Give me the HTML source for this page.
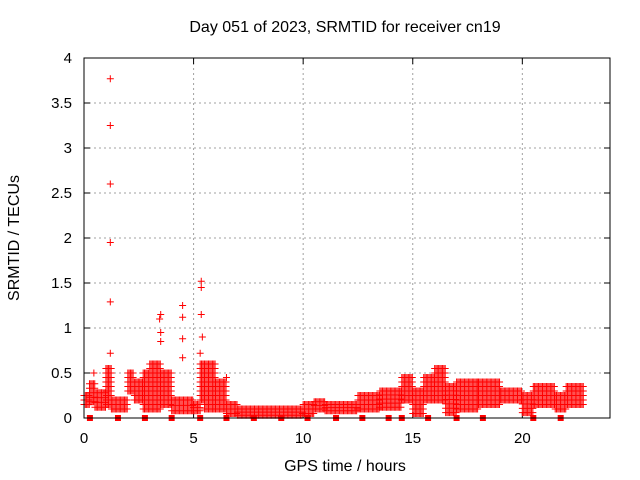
<!DOCTYPE html>
<html><head><meta charset="utf-8"><style>
html,body{margin:0;padding:0;background:#fff;}
svg{display:block;font-family:"Liberation Sans",sans-serif;}
</style></head><body>
<svg id="chart" width="640" height="480" viewBox="0 0 640 480">
<rect width="640" height="480" fill="#fff"/>
<text x="345" y="32" font-size="16" text-anchor="middle">Day 051 of 2023, SRMTID for receiver cn19</text>
<text x="0" y="0" transform="translate(19,238) rotate(-90)" font-size="16" text-anchor="middle">SRMTID / TECUs</text>
<text x="345" y="471" font-size="16" text-anchor="middle">GPS time / hours</text>
<g id="grid"></g>
<g id="ticks"></g>
<g id="marks"></g>
<rect x="84" y="58" width="526" height="360" fill="none" stroke="#000" stroke-width="1"/>
</svg>
<script>
const xTicks=[0,5,10,15,20];
const yTicks=[0,0.5,1,1.5,2,2.5,3,3.5,4];
const yTickLabels=["0","0.5","1","1.5","2","2.5","3","3.5","4"];
// segments: start hour, end hour, low value, high value
const segStart=[0,0.25,0.5,1.0,1.25,2.0,2.3,2.7,3.0,3.5,4.0,5.0,5.3,5.5,6.0,6.5,7.0,10.0,10.5,11.0,12.5,13.5,14.5,15.0,15.5,16.0,16.5,17.0,18.0,19.0,20.0,20.5,21.5,22.0];
const segEnd=[0.25,0.5,1.0,1.25,2.0,2.3,2.7,3.0,3.5,4.0,5.0,5.3,5.5,6.0,6.5,7.0,10.0,10.5,11.0,12.5,13.5,14.5,15.0,15.5,16.0,16.5,17.0,18.0,19.0,20.0,20.5,21.5,22.0,22.8];
const segLow=[0.15,0.18,0.12,0.15,0.1,0.3,0.2,0.1,0.1,0.15,0.08,0.08,0.2,0.1,0.1,0.05,0.03,0.05,0.1,0.08,0.1,0.12,0.2,0.05,0.2,0.2,0.06,0.1,0.15,0.2,0.06,0.15,0.1,0.15];
const segHigh=[0.25,0.38,0.28,0.55,0.2,0.5,0.4,0.5,0.6,0.5,0.2,0.15,0.6,0.6,0.4,0.15,0.1,0.15,0.18,0.15,0.25,0.3,0.45,0.3,0.45,0.55,0.35,0.4,0.4,0.3,0.25,0.35,0.25,0.35];
// isolated spikes
const spikeX=[1.2,1.2,1.2,1.2,1.2,1.2,0.45,3.5,3.5,3.45,3.5,4.5,4.5,4.5,4.5,5.35,5.35,5.35,5.4,5.3,6.5];
const spikeY=[0.72,1.29,1.95,2.6,3.25,3.77,0.5,0.85,0.95,1.1,1.15,0.67,0.88,1.12,1.25,1.15,1.45,1.52,0.9,0.72,0.45];
const sqX=[0.27,1.55,2.78,4.0,5.3,6.5,7.75,9.0,10.2,11.5,12.7,13.9,14.5,15.7,17.0,18.2,20.5,21.75];
const NS='http://www.w3.org/2000/svg';
const X0=84,X1=610,Y0=418,Y1=58;
function xs(v){return X0+(v/24)*(X1-X0);}
function ys(v){return Y0-(v/4)*(Y0-Y1);}
const grid=document.getElementById('grid'),ticks=document.getElementById('ticks'),marks=document.getElementById('marks');
function mk(tag,attrs,parent){const e=document.createElementNS(NS,tag);for(const k in attrs)e.setAttribute(k,attrs[k]);parent.appendChild(e);return e;}
xTicks.forEach((t,i)=>{
  const x=xs(t);
  if(t>0){const g=mk('line',{x1:x,x2:x,y1:Y1,y2:Y0,stroke:'#a0a0a0','stroke-dasharray':'2,3'},grid);
  
  }
  mk('line',{x1:x,x2:x,y1:Y0,y2:Y0-6,stroke:'#000'},ticks);
  mk('line',{x1:x,x2:x,y1:Y1,y2:Y1+6,stroke:'#000'},ticks);
  const l=mk('text',{x:x,y:Y0+25,'font-size':15,'text-anchor':'middle'},ticks);
  l.textContent=String(t);
  
  
});
yTicks.forEach((t,i)=>{
  const y=ys(t);
  if(t>0&&t<4){const g=mk('line',{x1:X0,x2:X1,y1:y,y2:y,stroke:'#a0a0a0','stroke-dasharray':'2,3'},grid);
  
  }
  mk('line',{x1:X0,x2:X0+6,y1:y,y2:y,stroke:'#000'},ticks);
  mk('line',{x1:X1,x2:X1-6,y1:y,y2:y,stroke:'#000'},ticks);
  const l=mk('text',{x:X0-12,y:y+5,'font-size':15,'text-anchor':'end'},ticks);
  l.textContent=yTickLabels[i];
  
  
});
let d='';
function cross(x,y){d+=`M${x-3.5} ${y}h7M${x} ${y-3.5}v7`;}
for(let s=0;s<segStart.length;s++){
  for(let h=segStart[s];h<segEnd[s];h+=0.06){
    const lo=segLow[s],hi=segHigh[s];
    const n=Math.max(2,Math.round((hi-lo)/0.05));
    for(let k=0;k<=n;k++){cross(xs(h),ys(lo+(hi-lo)*k/n));}
  }
}
spikeX.forEach((v,i)=>cross(xs(v),ys(spikeY[i])));
const p=mk('path',{d:d,stroke:'#ff0000','stroke-width':1,fill:'none'},marks);


sqX.forEach(v=>{
  const r=mk('rect',{x:xs(v)-3,y:Y0-3,width:6,height:6,fill:'#ff0000'},marks);
  
  
});
</script>
</body></html>
